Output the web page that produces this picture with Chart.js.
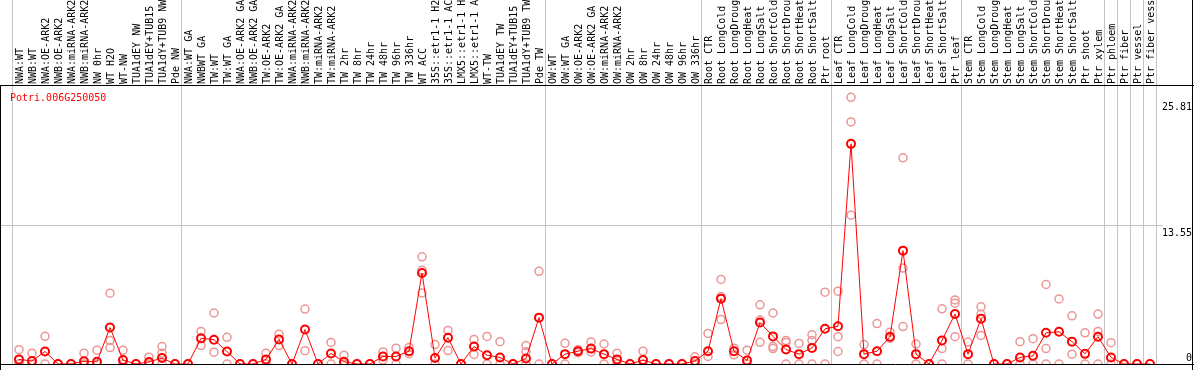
<!DOCTYPE html>
<html>
<head>
<meta charset="utf-8">
<title>Potri.006G250050</title>
<script src="https://cdn.jsdelivr.net/npm/chart.js@4.4.1/dist/chart.umd.min.js"></script>
<style>
	body { margin: 0; background: #fff; }
	#wrap { width: 1194px; height: 370px; }
</style>
</head>
<body>
<div id="wrap"><canvas id="exprGraph" width="1194" height="370"></canvas></div>
<script>
var geneName = 'Potri.006G250050';

// sample groups, in plot order (a grey separator is drawn between groups)
var groupNw = ['NWA:WT', 'NWB:WT', 'NWA:OE-ARK2', 'NWB:OE-ARK2', 'NWA:miRNA-ARK2', 'NWB:miRNA-ARK2',
	'NW 0hr', 'WT H2O', 'WT-NW', 'TUA1dEY NW', 'TUA1dEY+TUB15 NW', 'TUA1dY+TUB9 NW', 'Pde NW'];
var groupTw = ['NWA:WT GA', 'NWBWT GA', 'TW:WT', 'TW:WT GA', 'NWA:OE-ARK2 GA', 'NWB:OE-ARK2 GA',
	'TW:OE-ARK2', 'TW:OE-ARK2 GA', 'NWA:miRNA-ARK2 GA', 'NWB:miRNA-ARK2 GA', 'TW:miRNA-ARK2', 'TW:miRNA-ARK2',
	'TW 2hr', 'TW 8hr', 'TW 24hr', 'TW 48hr', 'TW 96hr', 'TW 336hr', 'WT ACC', '35S::etr1-1 H2O',
	'35S::etr1-1 ACC', 'LMX5::etr1-1 H2O', 'LMX5::etr1-1 ACC', 'WT-TW', 'TUA1dEY TW', 'TUA1dEY+TUB15 TW',
	'TUA1dY+TUB9 TW', 'Pde TW'];
var groupOw = ['OW:WT', 'OW:WT GA', 'OW:OE-ARK2', 'OW:OE-ARK2 GA', 'OW:miRNA-ARK2', 'OW:miRNA-ARK2',
	'OW 2hr', 'OW 8hr', 'OW 24hr', 'OW 48hr', 'OW 96hr', 'OW 336hr'];
var groupRoot = ['Root CTR', 'Root LongCold', 'Root LongDrought', 'Root LongHeat', 'Root LongSalt',
	'Root ShortCold', 'Root ShortDrought', 'Root ShortHeat', 'Root ShortSalt', 'Ptr root'];
var groupLeaf = ['Leaf CTR', 'Leaf LongCold', 'Leaf LongDrought', 'Leaf LongHeat', 'Leaf LongSalt',
	'Leaf ShortCold', 'Leaf ShortDrought', 'Leaf ShortHeat', 'Leaf ShortSalt', 'Ptr leaf'];
var groupStem = ['Stem CTR', 'Stem LongCold', 'Stem LongDrought', 'Stem LongHeat', 'Stem LongSalt',
	'Stem ShortCold', 'Stem ShortDrought', 'Stem ShortHeat', 'Stem ShortSalt', 'Ptr shoot', 'Ptr xylem'];
var groupPhloem = ['Ptr phloem'];
var groupFiber = ['Ptr fiber'];
var groupVessel = ['Ptr vessel'];
var groupFiberVessel = ['Ptr fiber vessel'];

var groups = [groupNw, groupTw, groupOw, groupRoot, groupLeaf, groupStem,
	groupPhloem, groupFiber, groupVessel, groupFiberVessel];

// mean expression per sample
var meanValues = [
	0.45, 0.29, 1.22, 0, 0, 0.26, 0.22, 3.55, 0.38, 0, 0.2, 0.58, 0,
	0, 2.5, 2.37, 1.22, 0, 0, 0.45, 2.4, 0, 3.36, 0, 1.03, 0.22, 0, 0, 0.73, 0.73, 1.25, 8.87, 0.58,
	2.56, 0, 1.7, 0.86, 0.64, 0, 0.54, 4.52,
	0, 0.96, 1.25, 1.5, 0.96, 0.45, 0, 0.38, 0, 0, 0, 0.29,
	1.25, 6.37, 1.25, 0.35, 4.04, 2.69, 1.41, 0.96, 1.57, 3.43,
	3.68, 21.46, 0.96, 1.25, 2.66, 11.05, 0.96, 0, 2.3, 4.87,
	0.96, 4.42, 0, 0, 0.64, 0.8, 3.04, 3.14, 2.18, 0.99, 2.66,
	0.64, 0, 0, 0
];

// individual replicates
var rep1 = [
	1.4, 1.06, 2.7, 0, 0, 1.06, 1.35, 6.9, 1.35, 0, 0.67, 1.7, 0,
	0, 3.17, 4.97, 2.6, 0, 0, 1.06, 2.9, 0, 5.35, 0, 2.1, 0.86, 0, 0, 1.18, 1.54, 1.6, 10.45, 1.89,
	3.27, 0, 2.4, 2.69, 2.18, 0, 1.8, 9.03,
	0, 2.02, 1.4, 2.15, 1.95, 1.06, 0, 1.25, 0, 0, 0, 0.7,
	2.98, 8.24, 1.54, 1.35, 5.77, 4.97, 2.3, 2.0, 2.85, 7.0,
	7.1, 26.0, 1.89, 3.94, 3.1, 20.1, 1.95, 0, 5.38, 6.25,
	2.14, 5.57, 0, 0, 2.18, 2.47, 7.75, 6.34, 4.7, 3.04, 4.87,
	2.08, 0, 0, 0
];
var rep2 = [
	0, 0, 0, null, null, 0, 0, 2.28, 0, null, 0, 1.06, null,
	null, 1.8, 1.15, 0, null, null, 0, 1.8, null, 1.3, null, 0, 0, null, null, 0.4, 0, 1.0, 9.13, 0,
	1.31, null, 0.93, 0, 0, null, 1.2, 0,
	null, 0, 1.1, 1.18, 0, 0, null, 0, null, null, null, 0,
	0.73, 6.57, 0.9, 0, 4.3, 1.7, 2.1, 0, 2.3, 0,
	2.66, 23.6, 0, 0, 2.5, 9.35, 0, null, 1.5, 5.93,
	0, 4.84, null, null, 0, 0, 1.5, 0, 0.96, 0, 3.17,
	0, null, null, null
];
var rep3 = [
	0, null, null, null, null, null, null, 1.6, null, null, null, 0, null,
	null, null, null, null, null, null, null, null, null, null, null, null, null, null, null, null, null, null, 6.92, null,
	null, null, null, null, null, null, 0, null,
	null, null, null, null, null, null, null, null, null, null, null, null,
	null, 4.33, null, null, 2.11, 1.5, 0, null, 0, null,
	1.22, 14.5, null, null, null, 3.65, null, null, 0, 2.66,
	null, 2.79, null, null, null, null, 0, null, null, null, 0,
	null, null, null, null
];

// right axis labels
var yTickValues = [0, 13.55, 25.81];
var yMax = 27.1;

var categories = [].concat.apply([], groups);

var lineRed = '#ff0000';
var repPink = '#ec9696';
var sepGrey = '#c4c4c4';
var monoFont = '"DejaVu Sans Mono", "Liberation Mono", monospace';

/*
* Draws the frame, the group separators, the grid line,
* the gene name and the right value labels
*/
var framePlugin = {
	id: 'frame',
	beforeDatasetsDraw: function(chart) {
		var c = chart.ctx;
		var area = chart.chartArea;
		var x = chart.scales.x;
		var y = chart.scales.y;
		var half = (x.getPixelForValue(1) - x.getPixelForValue(0)) / 2;

		c.save();
		c.lineWidth = 1;

		// grey separators between sample groups
		c.strokeStyle = sepGrey;
		var idx = 0;
		var bounds = [0];
		for (var i = 0; i < groups.length; i++) {
			idx += groups[i].length;
			bounds.push(idx);
		}
		bounds.forEach(function(b) {
			var px = Math.floor(x.getPixelForValue(b) - half) + 0.5;
			c.beginPath();
			c.moveTo(px, 0);
			c.lineTo(px, area.bottom);
			c.stroke();
		});

		// grey line at the middle tick
		var gy = Math.floor(y.getPixelForValue(yTickValues[1])) + 0.5;
		c.beginPath();
		c.moveTo(0, gy);
		c.lineTo(chart.width - 31, gy);
		c.stroke();

		// black frame
		c.strokeStyle = '#000';
		var top = Math.floor(area.top) - 0.5;
		var bottom = Math.floor(area.bottom) + 0.5;
		c.beginPath();
		c.moveTo(0, top);
		c.lineTo(chart.width, top);
		c.moveTo(0, bottom);
		c.lineTo(chart.width, bottom);
		c.moveTo(0.5, top);
		c.lineTo(0.5, chart.height);
		c.moveTo(chart.width - 1.5, 0);
		c.lineTo(chart.width - 1.5, chart.height);
		c.stroke();

		// gene name
		c.font = '10px ' + monoFont;
		c.fillStyle = lineRed;
		c.textAlign = 'left';
		c.textBaseline = 'middle';
		c.fillText(geneName, 10, area.top + 12);

		// value labels on the right
		c.fillStyle = '#000';
		c.textAlign = 'right';
		yTickValues.forEach(function(v) {
			var py = y.getPixelForValue(v);
			if (v === 0) {
				c.textBaseline = 'alphabetic';
				c.fillText(String(v), chart.width - 2, py - 3);
			} else {
				c.textBaseline = 'top';
				c.fillText(String(v), chart.width - 2, py + 3);
			}
		});
		c.restore();
	}
};

var repStyle = {
	showLine: false,
	pointStyle: 'circle',
	pointRadius: 4,
	pointBorderWidth: 1.5,
	pointBorderColor: repPink,
	pointBackgroundColor: 'rgba(0,0,0,0)',
	order: 1
};

var ctx = document.getElementById('exprGraph');
var exprChart = new Chart(ctx, {
	type: 'line',
	data: {
		labels: categories,
		datasets: [{
			label: geneName,
			data: meanValues,
			borderColor: lineRed,
			borderWidth: 1,
			tension: 0,
			pointStyle: 'circle',
			pointRadius: 4,
			pointBorderWidth: 2,
			pointBorderColor: lineRed,
			pointBackgroundColor: 'rgba(0,0,0,0)',
			order: 0
		},
		Object.assign({ label: 'rep 1', data: rep1 }, repStyle),
		Object.assign({ label: 'rep 2', data: rep2 }, repStyle),
		Object.assign({ label: 'rep 3', data: rep3 }, repStyle)]
	},
	options: {
		responsive: false,
		animation: false,
		devicePixelRatio: 1,
		layout: {
			padding: { left: 12.5, right: 37.5, top: 0, bottom: 1 }
		},
		plugins: {
			legend: { display: false },
			tooltip: { enabled: false }
		},
		scales: {
			x: {
				position: 'top',
				offset: true,
				border: { display: false },
				grid: { display: false, drawTicks: false },
				ticks: {
					autoSkip: false,
					minRotation: 90,
					maxRotation: 90,
					padding: 2,
					labelOffset: 13,
					color: '#000',
					font: { family: monoFont, size: 10 }
				},
				afterFit: function(scale) {
					scale.height = 86;
					scale.paddingLeft = 0;
					scale.paddingRight = 0;
				}
			},
			y: {
				display: false,
				min: 0,
				max: yMax
			}
		}
	},
	plugins: [framePlugin]
});
</script>
</body>
</html>
